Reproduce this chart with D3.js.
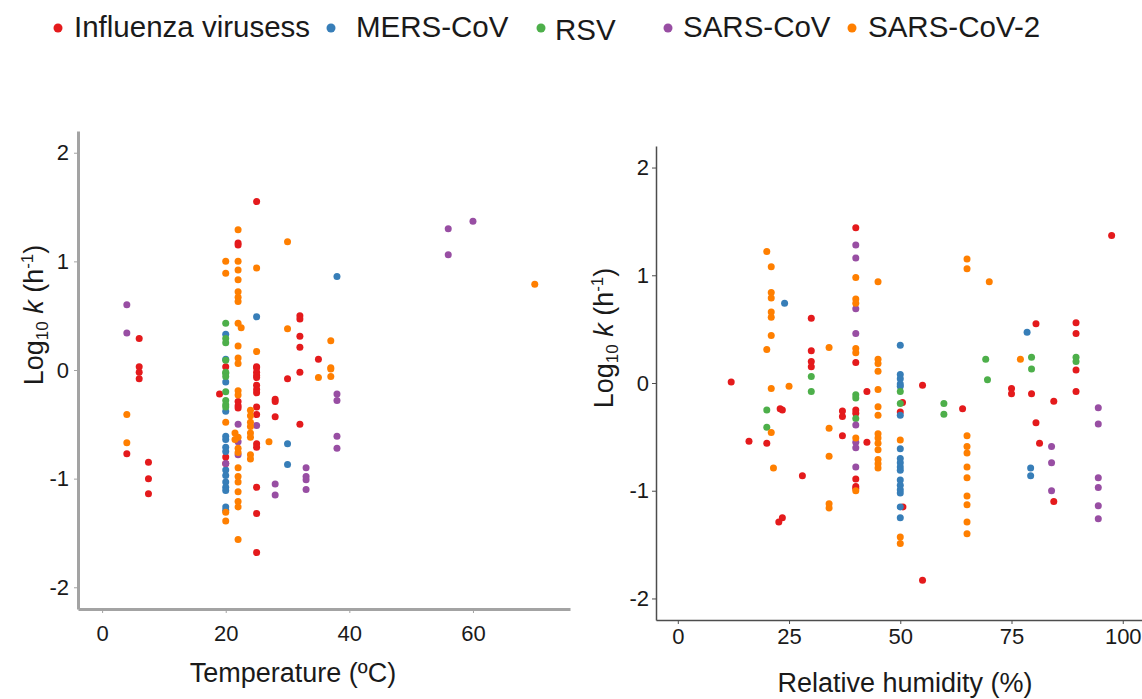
<!DOCTYPE html>
<html>
<head>
<meta charset="utf-8">
<script src="https://cdn.jsdelivr.net/npm/d3@7"></script>
<style>
  body { margin: 0; background: #fff; }
  text { font-family: "Liberation Sans", Arial, sans-serif; fill: #1a1a1a; }
</style>
</head>
<body>
<script>
// virus groups, in legend order
const viruses = ["Influenza virusess", "MERS-CoV", "RSV", "SARS-CoV", "SARS-CoV-2"];
const colors = ["#e41a1c", "#377eb8", "#4daf4a", "#984ea3", "#ff7f00"];

// temperature (ºC), log10 k
const tempFlu = [[4,-0.77],[6,0.29],[6,0.03],[6,-0.02],[6,-0.08],[7.5,-0.85],[7.5,-1.0],[7.5,-1.14],
  [22,1.17],[22,1.15],[25,1.55],[32,0.50],[32,0.47],[32,0.31],[32,0.21],[35,0.10],[20,0.03],
  [25,0.03],[25,0.02],[25,-0.02],[25,-0.05],[25,-0.07],[25,-0.14],[25,-0.18],[25,-0.21],[25,-0.34],
  [25,-0.41],[25,-0.68],[25,-0.71],[25,-1.08],[25,-1.32],[25,-1.68],[19,-0.22],[28,-0.27],[28,-0.29],
  [28,-0.43],[32,-0.02],[32,-0.5],[30,-0.08],[22,-0.29],[22,-0.33],[22,-0.35],[20,-0.8],[20,-0.86]];
const tempMers = [[38,0.86],[25,0.49],[20,0.33],[20,0.1],[20,-0.11],[20,-0.38],[20,-0.61],[20,-0.64],
  [20,-0.71],[20,-0.75],[20,-0.92],[20,-0.97],[20,-1.03],[20,-1.08],[20,-1.11],[20,-1.26],[20,-1.29],
  [30,-0.68],[30,-0.87]];
const tempRsv = [[20,0.43],[20,0.29],[20,0.25],[20,0.09],[20,-0.03],[20,-0.02],[20,-0.06],[20,-0.2],
  [20,-0.28],[20,-0.32],[20,-0.34]];
const tempSars = [[4,0.6],[4,0.34],[56,1.30],[56,1.06],[60,1.37],[38,-0.22],[38,-0.28],[38,-0.61],
  [38,-0.72],[22,-0.5],[22,-0.66],[22,-0.78],[25,-0.51],[20,-0.86],[33,-0.9],[33,-0.98],[33,-1.01],
  [33,-1.1],[28,-1.05],[28,-1.15]];
const tempSars2 = [[4,-0.41],[4,-0.67],[70,0.79],[30,1.18],[30,0.38],[25,0.94],[25,0.17],
  [22,1.29],[22,1.0],[22,0.92],[22,0.83],[22,0.72],[22,0.67],[22,0.63],[22,0.43],[22,0.22],[22,0.11],
  [22,0.06],[22,-0.19],[22,-0.23],[21.5,-0.58],[22,-0.62],[21.5,-0.64],[22,-0.72],[22,-0.76],[22,-0.9],
  [22,-0.98],[22,-1.03],[22,-1.12],[22,-1.21],[22,-1.26],[22,-1.56],[22.5,0.39],[20,1.0],[20,0.89],
  [20,-0.48],[20,-1.31],[20,-1.39],[37,0.27],[37,0.02],[37,-0.06],[37,0.01],[35,-0.07],[24,-0.37],
  [24,-0.42],[24,-0.48],[24,-0.52],[24,-0.58],[24,-0.62],[24,-0.78],[24,-0.82],[27,-0.66]];

// relative humidity (%), log10 k
const rhFlu = [[40,1.44],[40,0.19],[40,-0.25],[40,-0.28],[40,-0.89],[40,-0.96],[40,-0.98],
  [30,0.60],[30,0.30],[30,0.20],[30,0.15],[12,0.01],[23,-0.24],[23.5,-0.25],[37,-0.26],[37,-0.31],
  [37,-0.49],[16,-0.54],[20,-0.56],[28,-0.86],[23.5,-1.25],[22.7,-1.29],[97.5,1.37],[80.5,0.55],
  [80.5,-0.37],[89.5,0.56],[89.5,0.46],[89.5,0.12],[89.5,-0.08],[55,-0.02],[55,-1.83],[75,-0.05],
  [75,-0.1],[79.5,-0.1],[42.5,-0.08],[42.5,-0.55],[84.5,-0.17],[84.5,-1.1],[64,-0.24],[50,-0.27],
  [50.5,-0.18],[50.6,-1.15],[81.3,-0.56]];
const rhMers = [[24,0.74],[50,0.35],[50,0.08],[50,0.04],[50,-0.01],[50,-0.03],[50,-0.3],[50,-0.61],
  [50,-0.7],[50,-0.74],[50,-0.78],[50,-0.81],[50,-0.9],[50,-0.95],[50,-0.99],[50,-1.02],[50,-1.15],
  [50,-1.25],[78.5,0.47],[79.3,-0.79],[79.3,-0.86]];
const rhRsv = [[30,0.06],[30,-0.08],[40,-0.11],[40,-0.14],[40,-0.33],[20,-0.25],[20,-0.41],
  [69.2,0.22],[69.6,0.03],[79.5,0.24],[79.5,0.13],[89.5,0.24],[89.5,0.2],[50,-0.08],[50,-0.19],
  [59.8,-0.19],[59.8,-0.29]];
const rhSars = [[40,1.28],[40,1.16],[40,0.69],[40,0.46],[40,-0.39],[40,-0.55],[40,-0.6],[40,-0.78],
  [94.5,-0.23],[94.5,-0.38],[94.5,-0.88],[94.5,-0.97],[94.5,-1.14],[94.5,-1.26],[84,-0.59],
  [84,-0.74],[84,-1.0]];
const rhSars2 = [[20,1.22],[20,0.31],[21,1.08],[21,0.84],[21,0.79],[21,0.66],[21,0.61],[21,0.44],
  [21,-0.05],[21,-0.46],[21.5,-0.79],[40,0.98],[40,0.78],[40,0.74],[40,0.32],[40,0.28],[40,-0.51],
  [40,-1.0],[45,0.94],[45,0.22],[45,0.18],[45,0.11],[45,-0.06],[45,-0.22],[45,-0.3],[45,-0.47],
  [45,-0.51],[45,-0.56],[45,-0.62],[45,-0.71],[45,-0.75],[45,-0.79],[65,1.15],[65,1.06],[65,-0.49],
  [65,-0.59],[65,-0.65],[65,-0.78],[65,-0.88],[65,-1.05],[65,-1.13],[65,-1.29],[65,-1.4],[70,0.94],
  [34,0.33],[34,-0.68],[25,-0.03],[34,-0.42],[34,-1.12],[34,-1.16],[77,0.22],[50,-0.53],[50,-1.43],
  [50,-1.49]];

const tempTicks = [0, 20, 40, 60];
const rhTicks = [0, 25, 50, 75, 100];
const kTicks = [-2, -1, 0, 1, 2];

const W = 1142, H = 699;
const svg = d3.select("body").append("svg").attr("width", W).attr("height", H);

// one panel: scales, axes, points, titles
function drawPanel(p) {
  const x = d3.scaleLinear().domain(p.xDomain).range([p.left, p.right]);
  const y = d3.scaleLinear().domain([-2.2, 2.2]).range([p.bottom, p.top]);
  const g = svg.append("g");

  const ax = g.append("g")
      .attr("transform", `translate(0,${p.bottom})`)
      .call(d3.axisBottom(x).tickValues(p.xTicks).tickFormat(d => String(d))
        .tickSize(4).tickSizeOuter(0).tickPadding(p.xPad));
  const ay = g.append("g")
      .attr("transform", `translate(${p.left},0)`)
      .call(d3.axisLeft(y).tickValues(kTicks).tickFormat(d => String(d))
        .tickSize(4).tickSizeOuter(0).tickPadding(p.yPad));

  [ax, ay].forEach(a => {
    a.select(".domain").attr("stroke", p.axisColor).attr("stroke-width", p.axisWidth);
    a.selectAll(".tick line").attr("stroke", p.axisColor).attr("stroke-width", 1);
    a.selectAll(".tick text").attr("font-size", 22).attr("fill", "#1a1a1a")
      .attr("font-family", "'Liberation Sans', Arial, sans-serif");
  });

  p.series.forEach((pts, i) => {
    g.append("g").selectAll("circle")
      .data(pts)
      .enter().append("circle")
        .attr("cx", d => x(d[0]))
        .attr("cy", d => y(d[1]))
        .attr("r", 3.5)
        .attr("fill", colors[i]);
  });

  g.append("text")
    .attr("x", p.xTitlePos[0]).attr("y", p.xTitlePos[1])
    .attr("text-anchor", "middle").attr("font-size", 27)
    .text(p.xTitle);

  const yt = g.append("text")
    .attr("transform", `translate(${p.yTitlePos[0]},${p.yTitlePos[1]}) rotate(-90)`)
    .attr("text-anchor", "middle").attr("font-size", 27);
  yt.append("tspan").text("Log");
  yt.append("tspan").attr("font-size", 17).attr("dy", 5).text("10");
  yt.append("tspan").attr("dy", -5).text(" ");
  yt.append("tspan").attr("font-style", "italic").text("k");
  yt.append("tspan").text(" (h");
  yt.append("tspan").attr("font-size", 17).attr("dy", -10).text("-1");
  yt.append("tspan").attr("dy", 10).text(")");
}

drawPanel({
  xDomain: [-3.9, 75.7], xTicks: tempTicks,
  left: 78, right: 570, top: 131, bottom: 609,
  xPad: 12, yPad: 5, axisColor: "#a3a3a3", axisWidth: 3,
  series: [tempFlu, tempMers, tempRsv, tempSars, tempSars2],
  xTitle: "Temperature (ºC)", xTitlePos: [293, 682], yTitlePos: [43, 315]
});

drawPanel({
  xDomain: [-4.9, 105], xTicks: rhTicks,
  left: 656, right: 1145, top: 146, bottom: 620,
  xPad: 4, yPad: 3, axisColor: "#4d4d4d", axisWidth: 1.5,
  series: [rhFlu, rhMers, rhRsv, rhSars, rhSars2],
  xTitle: "Relative humidity (%)", xTitlePos: [905, 692], yTitlePos: [613, 338]
});

// legend
const legendDotX = [58, 331, 541, 668, 852];
const legendTextX = [74, 356, 555, 683, 868];
const legend = svg.append("g");
viruses.forEach((v, i) => {
  legend.append("circle").attr("cx", legendDotX[i]).attr("cy", 28).attr("r", 4.5).attr("fill", colors[i]);
  legend.append("text").attr("x", legendTextX[i]).attr("y", i === 2 ? 40 : 37)
    .attr("font-size", 29.5).text(v);
});
</script>
</body>
</html>
